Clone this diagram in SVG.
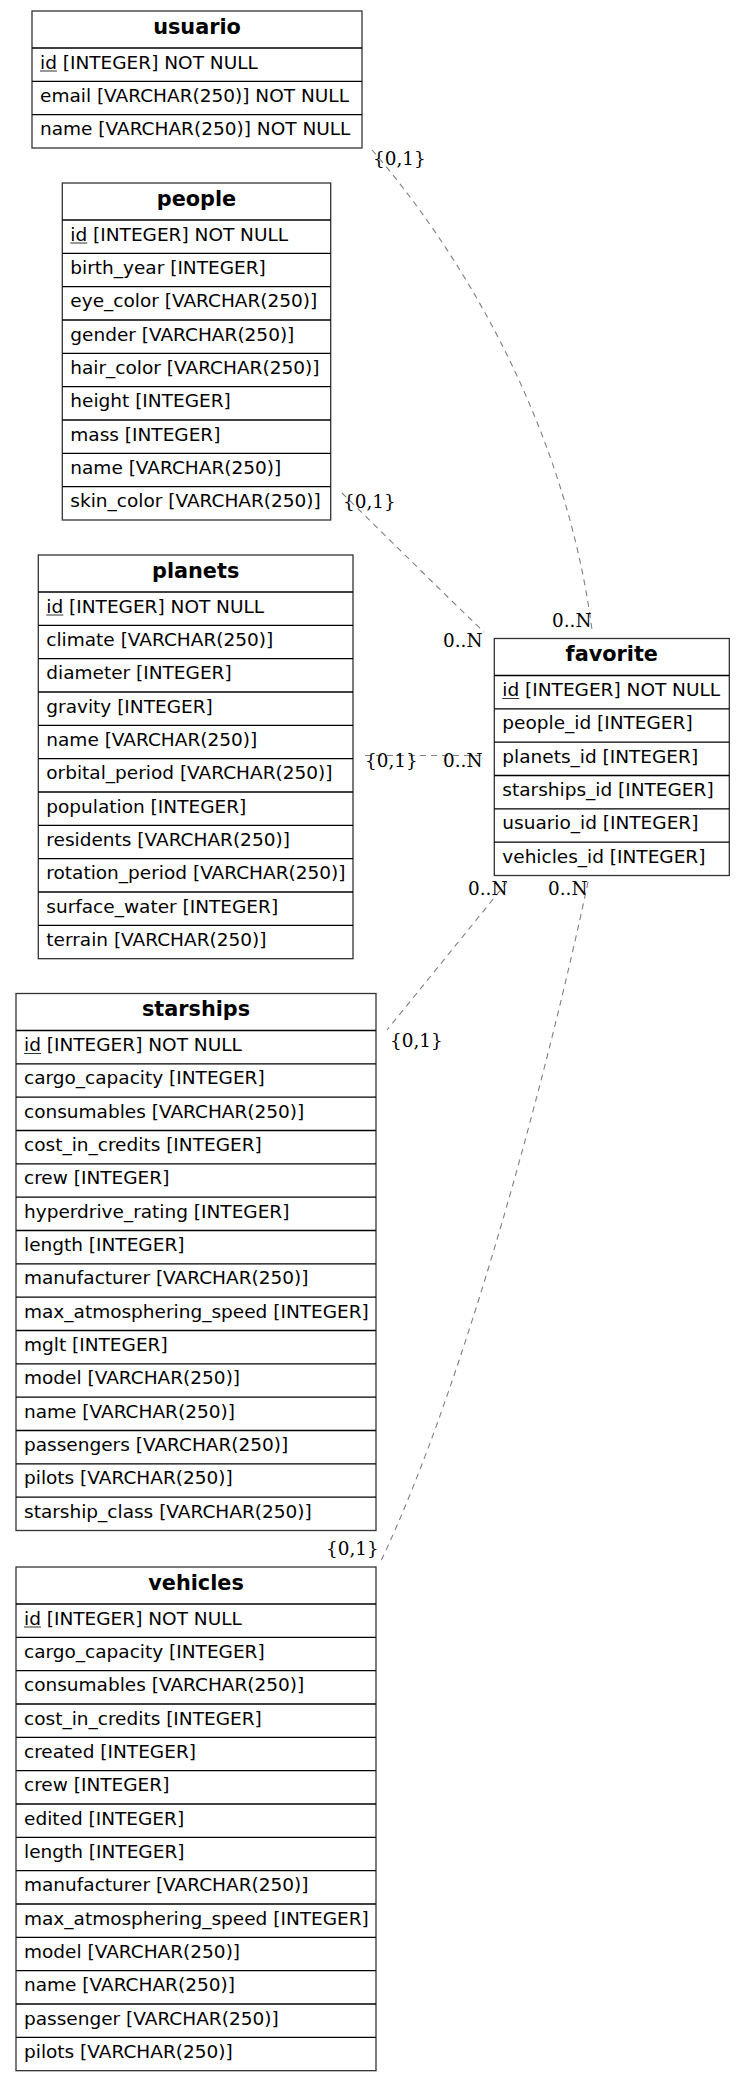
<svg xmlns="http://www.w3.org/2000/svg" width="745" height="2081" viewBox="0 0 745 2081">
<style>
.box{fill:#fff;stroke:#333;stroke-width:1.3}
.sep{stroke:#000;stroke-width:1.4}
.hd{font-family:"DejaVu Sans",sans-serif;font-weight:bold;font-size:20.8px;fill:#000;text-anchor:middle}
.tx{font-family:"DejaVu Sans",sans-serif;font-size:18.5px;fill:#000}
.ul{stroke:#333;stroke-width:1}
.lb{font-family:"DejaVu Serif",serif;font-size:18.4px;fill:#000}
.ed{fill:none;stroke:#808080;stroke-width:1.1;stroke-dasharray:6,5}
</style>
<rect width="745" height="2081" fill="#fff"/>

<g id="connectors">
<path class="ed" d="M372,150 C455,245 565,420 592,630"/>
<path class="ed" d="M342,493 C390,540 440,590 484,632"/>
<path class="ed" d="M365,755.5 L485,755.5"/>
<path class="ed" d="M507,882 L387,1030"/>
<path class="ed" d="M588,882 C550,1062 466,1383 380,1563"/>
<text class="lb" x="373" y="165">{0,1}</text>
<text class="lb" x="552" y="626.5">0..N</text>
<text class="lb" x="343" y="508">{0,1}</text>
<text class="lb" x="443" y="646.5">0..N</text>
<text class="lb" x="365" y="766.5">{0,1}</text>
<text class="lb" x="443" y="766.5">0..N</text>
<text class="lb" x="390" y="1046.5">{0,1}</text>
<text class="lb" x="468" y="895">0..N</text>
<text class="lb" x="326" y="1555">{0,1}</text>
<text class="lb" x="548" y="895">0..N</text>
</g>

<g id="usuario" transform="translate(32,11)">
<rect class="box" x="0" y="0" width="330" height="137"/>
<line class="sep" x1="0" x2="330" y1="37" y2="37"/>
<line class="sep" x1="0" x2="330" y1="70.33" y2="70.33"/>
<line class="sep" x1="0" x2="330" y1="103.67" y2="103.67"/>
<text class="hd" x="165" y="22.5">usuario</text>
<text class="tx" x="8" y="57.5">id [INTEGER] NOT NULL</text>
<line class="ul" x1="8" x2="25" y1="60" y2="60"/>
<text class="tx" x="8" y="90.83">email [VARCHAR(250)] NOT NULL</text>
<text class="tx" x="8" y="124.17">name [VARCHAR(250)] NOT NULL</text>
</g>

<g id="people" transform="translate(62.3,183)">
<rect class="box" x="0" y="0" width="268.4" height="337"/>
<line class="sep" x1="0" x2="268.4" y1="37" y2="37"/>
<line class="sep" x1="0" x2="268.4" y1="70.33" y2="70.33"/>
<line class="sep" x1="0" x2="268.4" y1="103.67" y2="103.67"/>
<line class="sep" x1="0" x2="268.4" y1="137" y2="137"/>
<line class="sep" x1="0" x2="268.4" y1="170.33" y2="170.33"/>
<line class="sep" x1="0" x2="268.4" y1="203.67" y2="203.67"/>
<line class="sep" x1="0" x2="268.4" y1="237" y2="237"/>
<line class="sep" x1="0" x2="268.4" y1="270.33" y2="270.33"/>
<line class="sep" x1="0" x2="268.4" y1="303.67" y2="303.67"/>
<text class="hd" x="134.2" y="22.5">people</text>
<text class="tx" x="8" y="57.5">id [INTEGER] NOT NULL</text>
<line class="ul" x1="8" x2="25" y1="60" y2="60"/>
<text class="tx" x="8" y="90.83">birth_year [INTEGER]</text>
<text class="tx" x="8" y="124.17">eye_color [VARCHAR(250)]</text>
<text class="tx" x="8" y="157.5">gender [VARCHAR(250)]</text>
<text class="tx" x="8" y="190.83">hair_color [VARCHAR(250)]</text>
<text class="tx" x="8" y="224.17">height [INTEGER]</text>
<text class="tx" x="8" y="257.5">mass [INTEGER]</text>
<text class="tx" x="8" y="290.83">name [VARCHAR(250)]</text>
<text class="tx" x="8" y="324.17">skin_color [VARCHAR(250)]</text>
</g>

<g id="planets" transform="translate(38.3,555)">
<rect class="box" x="0" y="0" width="314.7" height="403.67"/>
<line class="sep" x1="0" x2="314.7" y1="37" y2="37"/>
<line class="sep" x1="0" x2="314.7" y1="70.33" y2="70.33"/>
<line class="sep" x1="0" x2="314.7" y1="103.67" y2="103.67"/>
<line class="sep" x1="0" x2="314.7" y1="137" y2="137"/>
<line class="sep" x1="0" x2="314.7" y1="170.33" y2="170.33"/>
<line class="sep" x1="0" x2="314.7" y1="203.67" y2="203.67"/>
<line class="sep" x1="0" x2="314.7" y1="237" y2="237"/>
<line class="sep" x1="0" x2="314.7" y1="270.33" y2="270.33"/>
<line class="sep" x1="0" x2="314.7" y1="303.67" y2="303.67"/>
<line class="sep" x1="0" x2="314.7" y1="337" y2="337"/>
<line class="sep" x1="0" x2="314.7" y1="370.33" y2="370.33"/>
<text class="hd" x="157.35" y="22.5">planets</text>
<text class="tx" x="8" y="57.5">id [INTEGER] NOT NULL</text>
<line class="ul" x1="8" x2="25" y1="60" y2="60"/>
<text class="tx" x="8" y="90.83">climate [VARCHAR(250)]</text>
<text class="tx" x="8" y="124.17">diameter [INTEGER]</text>
<text class="tx" x="8" y="157.5">gravity [INTEGER]</text>
<text class="tx" x="8" y="190.83">name [VARCHAR(250)]</text>
<text class="tx" x="8" y="224.17">orbital_period [VARCHAR(250)]</text>
<text class="tx" x="8" y="257.5">population [INTEGER]</text>
<text class="tx" x="8" y="290.83">residents [VARCHAR(250)]</text>
<text class="tx" x="8" y="324.17">rotation_period [VARCHAR(250)]</text>
<text class="tx" x="8" y="357.5">surface_water [INTEGER]</text>
<text class="tx" x="8" y="390.83">terrain [VARCHAR(250)]</text>
</g>

<g id="favorite" transform="translate(494.3,638.5)">
<rect class="box" x="0" y="0" width="235" height="237"/>
<line class="sep" x1="0" x2="235" y1="37" y2="37"/>
<line class="sep" x1="0" x2="235" y1="70.33" y2="70.33"/>
<line class="sep" x1="0" x2="235" y1="103.67" y2="103.67"/>
<line class="sep" x1="0" x2="235" y1="137" y2="137"/>
<line class="sep" x1="0" x2="235" y1="170.33" y2="170.33"/>
<line class="sep" x1="0" x2="235" y1="203.67" y2="203.67"/>
<text class="hd" x="117.5" y="22.5">favorite</text>
<text class="tx" x="8" y="57.5">id [INTEGER] NOT NULL</text>
<line class="ul" x1="8" x2="25" y1="60" y2="60"/>
<text class="tx" x="8" y="90.83">people_id [INTEGER]</text>
<text class="tx" x="8" y="124.17">planets_id [INTEGER]</text>
<text class="tx" x="8" y="157.5">starships_id [INTEGER]</text>
<text class="tx" x="8" y="190.83">usuario_id [INTEGER]</text>
<text class="tx" x="8" y="224.17">vehicles_id [INTEGER]</text>
</g>

<g id="starships" transform="translate(16,993.5)">
<rect class="box" x="0" y="0" width="360" height="537"/>
<line class="sep" x1="0" x2="360" y1="37" y2="37"/>
<line class="sep" x1="0" x2="360" y1="70.33" y2="70.33"/>
<line class="sep" x1="0" x2="360" y1="103.67" y2="103.67"/>
<line class="sep" x1="0" x2="360" y1="137" y2="137"/>
<line class="sep" x1="0" x2="360" y1="170.33" y2="170.33"/>
<line class="sep" x1="0" x2="360" y1="203.67" y2="203.67"/>
<line class="sep" x1="0" x2="360" y1="237" y2="237"/>
<line class="sep" x1="0" x2="360" y1="270.33" y2="270.33"/>
<line class="sep" x1="0" x2="360" y1="303.67" y2="303.67"/>
<line class="sep" x1="0" x2="360" y1="337" y2="337"/>
<line class="sep" x1="0" x2="360" y1="370.33" y2="370.33"/>
<line class="sep" x1="0" x2="360" y1="403.67" y2="403.67"/>
<line class="sep" x1="0" x2="360" y1="437" y2="437"/>
<line class="sep" x1="0" x2="360" y1="470.33" y2="470.33"/>
<line class="sep" x1="0" x2="360" y1="503.67" y2="503.67"/>
<text class="hd" x="180" y="22.5">starships</text>
<text class="tx" x="8" y="57.5">id [INTEGER] NOT NULL</text>
<line class="ul" x1="8" x2="25" y1="60" y2="60"/>
<text class="tx" x="8" y="90.83">cargo_capacity [INTEGER]</text>
<text class="tx" x="8" y="124.17">consumables [VARCHAR(250)]</text>
<text class="tx" x="8" y="157.5">cost_in_credits [INTEGER]</text>
<text class="tx" x="8" y="190.83">crew [INTEGER]</text>
<text class="tx" x="8" y="224.17">hyperdrive_rating [INTEGER]</text>
<text class="tx" x="8" y="257.5">length [INTEGER]</text>
<text class="tx" x="8" y="290.83">manufacturer [VARCHAR(250)]</text>
<text class="tx" x="8" y="324.17">max_atmosphering_speed [INTEGER]</text>
<text class="tx" x="8" y="357.5">mglt [INTEGER]</text>
<text class="tx" x="8" y="390.83">model [VARCHAR(250)]</text>
<text class="tx" x="8" y="424.17">name [VARCHAR(250)]</text>
<text class="tx" x="8" y="457.5">passengers [VARCHAR(250)]</text>
<text class="tx" x="8" y="490.83">pilots [VARCHAR(250)]</text>
<text class="tx" x="8" y="524.17">starship_class [VARCHAR(250)]</text>
</g>

<g id="vehicles" transform="translate(16,1567)">
<rect class="box" x="0" y="0" width="360" height="503.67"/>
<line class="sep" x1="0" x2="360" y1="37" y2="37"/>
<line class="sep" x1="0" x2="360" y1="70.33" y2="70.33"/>
<line class="sep" x1="0" x2="360" y1="103.67" y2="103.67"/>
<line class="sep" x1="0" x2="360" y1="137" y2="137"/>
<line class="sep" x1="0" x2="360" y1="170.33" y2="170.33"/>
<line class="sep" x1="0" x2="360" y1="203.67" y2="203.67"/>
<line class="sep" x1="0" x2="360" y1="237" y2="237"/>
<line class="sep" x1="0" x2="360" y1="270.33" y2="270.33"/>
<line class="sep" x1="0" x2="360" y1="303.67" y2="303.67"/>
<line class="sep" x1="0" x2="360" y1="337" y2="337"/>
<line class="sep" x1="0" x2="360" y1="370.33" y2="370.33"/>
<line class="sep" x1="0" x2="360" y1="403.67" y2="403.67"/>
<line class="sep" x1="0" x2="360" y1="437" y2="437"/>
<line class="sep" x1="0" x2="360" y1="470.33" y2="470.33"/>
<text class="hd" x="180" y="22.5">vehicles</text>
<text class="tx" x="8" y="57.5">id [INTEGER] NOT NULL</text>
<line class="ul" x1="8" x2="25" y1="60" y2="60"/>
<text class="tx" x="8" y="90.83">cargo_capacity [INTEGER]</text>
<text class="tx" x="8" y="124.17">consumables [VARCHAR(250)]</text>
<text class="tx" x="8" y="157.5">cost_in_credits [INTEGER]</text>
<text class="tx" x="8" y="190.83">created [INTEGER]</text>
<text class="tx" x="8" y="224.17">crew [INTEGER]</text>
<text class="tx" x="8" y="257.5">edited [INTEGER]</text>
<text class="tx" x="8" y="290.83">length [INTEGER]</text>
<text class="tx" x="8" y="324.17">manufacturer [VARCHAR(250)]</text>
<text class="tx" x="8" y="357.5">max_atmosphering_speed [INTEGER]</text>
<text class="tx" x="8" y="390.83">model [VARCHAR(250)]</text>
<text class="tx" x="8" y="424.17">name [VARCHAR(250)]</text>
<text class="tx" x="8" y="457.5">passenger [VARCHAR(250)]</text>
<text class="tx" x="8" y="490.83">pilots [VARCHAR(250)]</text>
</g>
</svg>
